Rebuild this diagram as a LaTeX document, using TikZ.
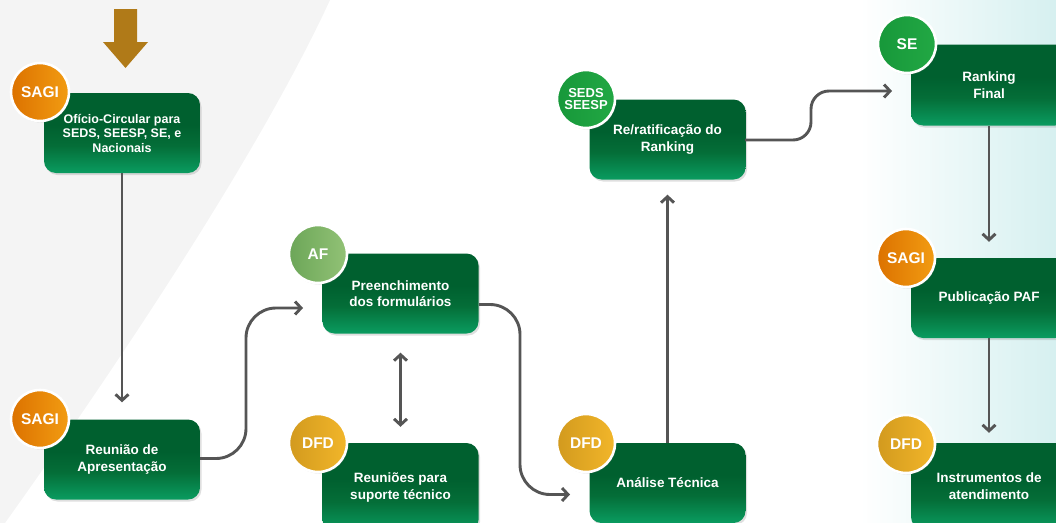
\documentclass[tikz,border=0pt]{standalone}
\usepackage{fontspec}
\setmainfont{Liberation Sans}
\usetikzlibrary{arrows.meta,shadows,calc}
\definecolor{gtop}{HTML}{00602F}
\definecolor{gmid}{HTML}{046E38}
\definecolor{gbot}{HTML}{0A9C60}
\definecolor{linegray}{HTML}{555555}
\definecolor{bggray}{HTML}{F4F4F4}
\definecolor{brownarrow}{HTML}{B07A18}
\definecolor{oA}{HTML}{DC7200}
\definecolor{oB}{HTML}{F29C12}
\definecolor{yA}{HTML}{D29A1E}
\definecolor{yB}{HTML}{F2B62A}
\definecolor{lgA}{HTML}{6CA658}
\definecolor{lgB}{HTML}{92C276}
\definecolor{seA}{HTML}{17983A}
\definecolor{seB}{HTML}{22A844}
\definecolor{cyanbg}{HTML}{D6F0F0}
\pgfdeclareverticalshading{boxshade}{100bp}{color(0bp)=(gbot); color(25bp)=(gbot); color(42bp)=(gmid); color(55bp)=(gtop); color(75bp)=(gtop); color(100bp)=(gtop)}
\tikzset{
  box/.style={rounded corners=12pt, minimum width=156pt, shading=boxshade,
    text=white, align=center, font=\fontsize{13.5}{16.5}\selectfont\bfseries,
    drop shadow={shadow xshift=1.5pt, shadow yshift=-2pt, opacity=0.25}},
  badge/.style={circle, minimum size=58pt, inner sep=0pt, draw=white, line width=2.6pt,
    text=white, align=center, font=\fontsize{15.5}{16}\selectfont\bfseries,
    drop shadow={shadow xshift=1pt, shadow yshift=-1.5pt, opacity=0.3}},
  sagi/.style={badge, left color=oA, right color=oB},
  dfd/.style={badge, left color=yA, right color=yB},
  afb/.style={badge, left color=lgA, right color=lgB},
  seb/.style={badge, left color=seA, right color=seB},
  arr/.style={draw=linegray, line width=2.9pt, -{Straight Barb[length=6pt,width=13pt]}},
  darr/.style={draw=linegray, line width=2.9pt, {Straight Barb[length=6pt,width=13pt]}-{Straight Barb[length=6pt,width=13pt]}},
}
\begin{document}
\begin{tikzpicture}[x=1pt,y=-1pt]
\useasboundingbox (0,0) rectangle (1056,522);
\clip (0,0) rectangle (1056,522);
% backgrounds
\fill[bggray] (0,0) -- (330,0) .. controls (270,130) and (150,320) .. (0,530) -- cycle;
\shade[left color=white, right color=cyanbg] (860,0) rectangle (1056,522);
% top arrow
\fill[brownarrow] (114,9) -- (137,9) -- (137,42) -- (148,42) -- (125.5,68) -- (103,42) -- (114,42) -- cycle;
% boxes
\node[box, minimum height=80pt, font=\fontsize{12.5}{14.5}\selectfont\bfseries] (b1) at (122,133) {Ofício-Circular para\\SEDS, SEESP, SE, e\\Nacionais};
\node[box, minimum height=80pt] (b2) at (122,459.5) {Reunião de\\Apresentação};
\node[box, minimum height=80pt] (b3) at (400.5,293.5) {Preenchimento\\dos formulários};
\node[box, minimum height=89pt] (b4) at (400.5,487.5) {Reuniões para\\suporte técnico};
\node[box, minimum height=80pt] (b5) at (667.5,139.5) {Re/ratificação do\\Ranking};
\node[box, minimum height=80pt] (b6) at (667.5,483) {Análise Técnica};
\node[box, minimum height=81pt] (b7) at (989,85) {Ranking\\Final};
\node[box, minimum height=80pt] (b8) at (989,298) {Publicação PAF};
\node[box, minimum height=86pt] (b9) at (989,486) {Instrumentos de\\atendimento};
% badges
\node[sagi] (s1) at (40,92) {SAGI};
\node[sagi] (s2) at (40,419) {SAGI};
\node[afb] (s3) at (318,254) {AF};
\node[dfd] (s4) at (318,443) {DFD};
\node[seb, font=\fontsize{13}{12}\selectfont\bfseries] (s5) at (586,99) {SEDS\\SEESP};
\node[dfd] (s6) at (586,443) {DFD};
\node[seb] (s7) at (907,44) {SE};
\node[sagi] (s8) at (906,258) {SAGI};
\node[dfd] (s9) at (906,444) {DFD};
% connector coordinates
\coordinate (b2out) at (200,458.5);
\coordinate (b3in) at (303,308);
\coordinate (b3out) at (479,304.5);
\coordinate (b6in) at (570,494.5);
\coordinate (b5out) at (745,140);
\coordinate (b7in) at (892,91);
% connectors
\draw[arr, shorten >=17pt] (b1.south) -- (b2.north);
\draw[arr, rounded corners=30pt] (b2out) -- (246,458.5) -- (246,308) -- (b3in);
\draw[darr, shorten <=19pt, shorten >=16pt] (b3.south) -- (b4.north);
\draw[arr, rounded corners=30pt] (b3out) -- (520,304.5) -- (520,494.5) -- (b6in);
\draw[arr, shorten >=15pt] (b6.north) -- (b5.south);
\draw[arr, rounded corners=18pt] (b5out) -- (811,140) -- (811,91) -- (b7in);
\draw[arr, shorten >=16pt] (b7.south) -- (b8.north);
\draw[arr, shorten >=10pt] (b8.south) -- (b9.north);
\end{tikzpicture}
\end{document}
